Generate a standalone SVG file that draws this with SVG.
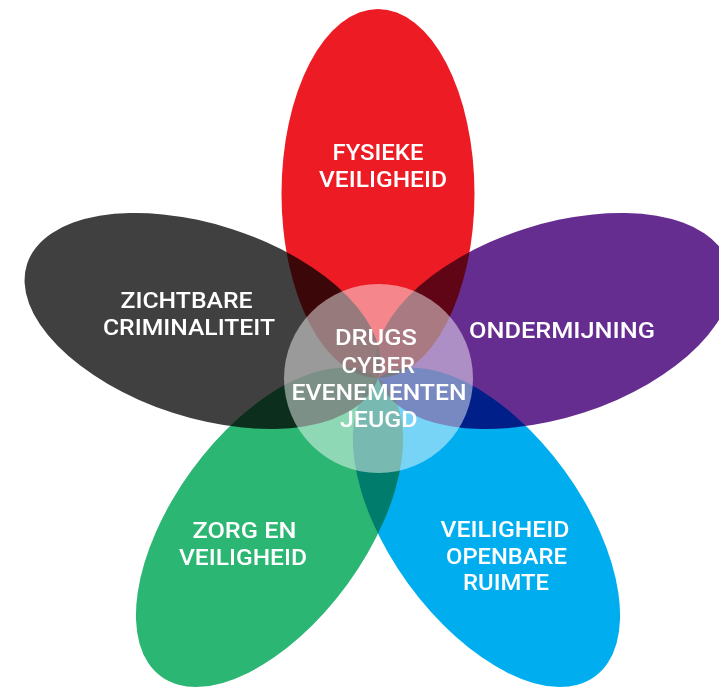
<svg xmlns="http://www.w3.org/2000/svg" width="719" height="687" viewBox="0 0 719 687">
  <style>
    .petal { mix-blend-mode: multiply; }
    .lbl { font-family: Roboto, "Open Sans", "Liberation Sans", sans-serif; font-weight: 500; font-size: 22.5px; fill: #ffffff; }
  </style>
  <defs>
    <ellipse id="shape" cx="378" cy="193.5" rx="96.5" ry="184.5"/>
  </defs>
  <rect width="719" height="687" fill="#ffffff"/>
  <g id="fysieke-veiligheid">
    <use href="#shape" class="petal" fill="#ED1C24"/>
    <text class="lbl" x="332.5" y="159.5" textLength="91" lengthAdjust="spacingAndGlyphs">FYSIEKE</text>
    <text class="lbl" x="319" y="186.5" textLength="128" lengthAdjust="spacingAndGlyphs">VEILIGHEID</text>
  </g>
  <g id="ondermijning">
    <use href="#shape" class="petal" fill="#662D91" transform="rotate(72 378 378)"/>
    <text class="lbl" x="469" y="337.5" textLength="186" lengthAdjust="spacingAndGlyphs">ONDERMIJNING</text>
  </g>
  <g id="veiligheid-openbare-ruimte">
    <use href="#shape" class="petal" fill="#00AEEF" transform="rotate(144 378 378)"/>
    <text class="lbl" x="440.5" y="536.5" textLength="129" lengthAdjust="spacingAndGlyphs">VEILIGHEID</text>
    <text class="lbl" x="446" y="563.5" textLength="121" lengthAdjust="spacingAndGlyphs">OPENBARE</text>
    <text class="lbl" x="463" y="590" textLength="86" lengthAdjust="spacingAndGlyphs">RUIMTE</text>
  </g>
  <g id="zorg-en-veiligheid">
    <use href="#shape" class="petal" fill="#2BB673" transform="rotate(216 378 378)"/>
    <text class="lbl" x="192.5" y="537.5" textLength="104" lengthAdjust="spacingAndGlyphs">ZORG EN</text>
    <text class="lbl" x="179" y="565" textLength="128" lengthAdjust="spacingAndGlyphs">VEILIGHEID</text>
  </g>
  <g id="zichtbare-criminaliteit">
    <use href="#shape" class="petal" fill="#404040" transform="rotate(288 378 378)"/>
    <text class="lbl" x="120.5" y="307.5" textLength="132" lengthAdjust="spacingAndGlyphs">ZICHTBARE</text>
    <text class="lbl" x="103" y="335" textLength="172" lengthAdjust="spacingAndGlyphs">CRIMINALITEIT</text>
  </g>
  <g id="centre">
    <circle cx="378.5" cy="378.5" r="94.5" fill="#ffffff" fill-opacity="0.47"/>
    <text class="lbl" x="335" y="345" textLength="82" lengthAdjust="spacingAndGlyphs">DRUGS</text>
    <text class="lbl" x="341.5" y="373" textLength="73.5" lengthAdjust="spacingAndGlyphs">CYBER</text>
    <text class="lbl" x="291.5" y="400" textLength="175" lengthAdjust="spacingAndGlyphs">EVENEMENTEN</text>
    <text class="lbl" x="340" y="426.5" textLength="77.5" lengthAdjust="spacingAndGlyphs">JEUGD</text>
  </g>
  <g id="connectors"/>
</svg>
